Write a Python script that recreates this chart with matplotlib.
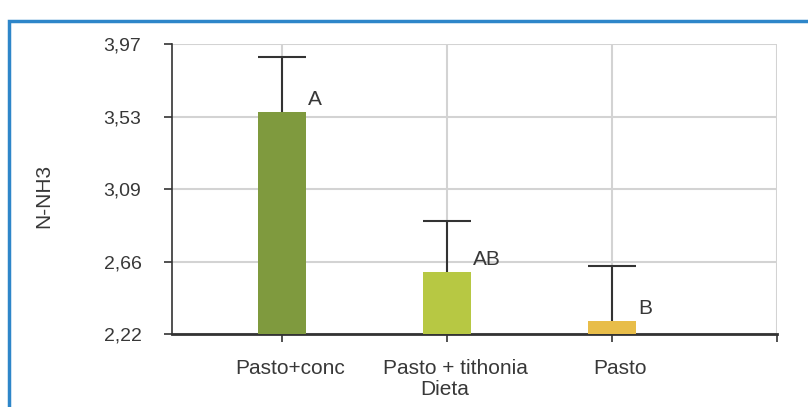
import matplotlib.pyplot as plt
import matplotlib.transforms as mtransforms
from matplotlib.patches import Rectangle

# data
dietas = ["Pasto+conc", "Pasto + tithonia", "Pasto"]
medias = [3.562, 2.596, 2.298]
err_sup = [0.332, 0.306, 0.332]
letras = ["A", "AB", "B"]
colores = ["#7f9a3e", "#b7c843", "#e8bd49"]
ytick_vals = [2.22, 2.6575, 3.095, 3.5325, 3.97]
ytick_labels = ["2,22", "2,66", "3,09", "3,53", "3,97"]
base = 2.22

plt.rcParams["font.family"] = ["Liberation Sans", "DejaVu Sans"]
txt = "#383838"

fig = plt.figure(figsize=(8.08, 4.07), dpi=100)
ax = fig.add_axes([172 / 808, 1 - 334 / 407, 605 / 808, 290 / 407])

x = list(range(len(dietas)))
alturas = [m - base for m in medias]
ax.bar(x, alturas, bottom=base, width=0.285, color=colores, zorder=3)
eb = ax.errorbar(x, medias, yerr=[[0] * len(x), err_sup], fmt="none",
                 ecolor="#333333", elinewidth=1.5, capsize=17, capthick=1.5,
                 zorder=4)
# only the upper cap is drawn in the reference
eb[1][0].set_visible(False)

for xi, m, l in zip(x, medias, letras):
    ax.text(xi + 0.16, m + 0.075, l, fontsize=15, color=txt,
            ha="left", va="center")

ax.set_xlim(-110 / 165, 3)
ax.set_ylim(ytick_vals[0], ytick_vals[-1])
ax.set_yticks(ytick_vals)
ax.set_yticklabels(ytick_labels)
ax.set_xticks([0, 1, 2, 3])
ax.set_xticklabels(dietas + [""])

ax.grid(True, color="#d3d3d3", linewidth=1.5, zorder=0)
ax.set_axisbelow(True)
for s in ["top", "right"]:
    ax.spines[s].set_visible(False)
ax.spines["left"].set_color("#333333")
ax.spines["left"].set_linewidth(1.2)
ax.spines["bottom"].set_color("#333333")
ax.spines["bottom"].set_linewidth(2)

ax.tick_params(axis="y", direction="out", length=6, width=1.2,
               color="#333333", pad=16, labelsize=14, labelcolor=txt)
ax.tick_params(axis="x", direction="out", length=6, width=1.2,
               color="#333333", pad=12, labelsize=15, labelcolor=txt)

offset = mtransforms.ScaledTranslation(0.08, 0, fig.dpi_scale_trans)
for lab in ax.get_xticklabels():
    lab.set_transform(lab.get_transform() + offset)

ax.set_ylabel("N-NH3", fontsize=15, color=txt)
ax.yaxis.set_label_coords((53 - 172) / 605, 0.475)
ax.set_xlabel("Dieta", fontsize=15, color=txt)
ax.xaxis.set_label_coords((445 - 172) / 605, -0.16)

# blue frame around the figure (only left and top edges visible)
fig.patches.append(Rectangle((9 / 808, -0.1), 1.2, 1.1 - 21 / 407,
                             transform=fig.transFigure, fill=False,
                             edgecolor="#2e86c9", linewidth=2.5))

fig.savefig("out.png", dpi=100)
